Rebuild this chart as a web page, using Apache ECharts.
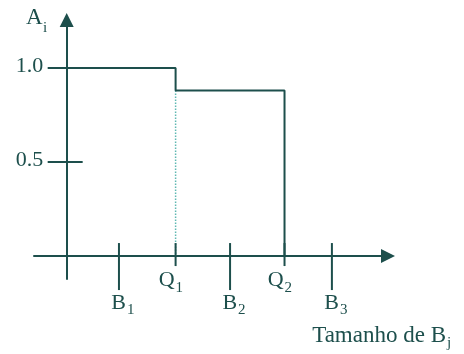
<!DOCTYPE html>
<html>
<head>
<meta charset="utf-8">
<style>
  html, body { margin: 0; padding: 0; background: #fff; }
  #chart { width: 464px; height: 354px; }
</style>
<script src="https://cdn.jsdelivr.net/npm/echarts@6/dist/echarts.min.js"></script>
</head>
<body>
<div id="chart"></div>
<script>
// A_i em função do tamanho de B_j (degraus)
const stepX = [0, 2, 2, 4, 4];
const stepY = [1, 1, 0.88, 0.88, 0];

// linha pontilhada em Q1
const dropX = [2, 2];
const dropY = [0.88, 0];

// marcas do eixo x
const xTickPos = [0.96, 2, 3, 4, 4.87];
const xTickLetter = ['B', 'Q', 'B', 'Q', 'B'];
const xTickSub = ['1', '1', '2', '2', '3'];

// marcas do eixo y
const yTickPos = [0.5, 1.0];
const yTickLabels = ['0.5', '1.0'];

const ink = '#1d4f4c';
const serif = 'Liberation Serif, DejaVu Serif, serif';

const txt = (text, x, y, size, align) => ({
  type: 'text',
  x: x, y: y,
  style: {
    text: text,
    font: size + 'px ' + serif,
    fill: ink,
    align: align, textAlign: align,
    verticalAlign: 'middle', textVerticalAlign: 'middle'
  }
});

const chart = echarts.init(document.getElementById('chart'));

chart.setOption({
  animation: false,
  grid: { left: 34, right: 76, top: 20, bottom: 75 },
  xAxis: {
    type: 'value',
    min: -0.6,
    max: 5.9,
    axisLine: {
      onZero: true,
      symbol: ['none', 'triangle'],
      symbolSize: [14, 14],
      lineStyle: { color: ink, width: 2 }
    },
    axisTick: { show: false },
    axisLabel: { show: false },
    splitLine: { show: false }
  },
  yAxis: {
    type: 'value',
    min: -0.122,
    max: 1.255,
    axisLine: {
      onZero: true,
      symbol: ['none', 'triangle'],
      symbolSize: [14, 14],
      lineStyle: { color: ink, width: 2 }
    },
    axisTick: { show: false },
    axisLabel: { show: false },
    splitLine: { show: false }
  },
  graphic: [
    txt('A', 26, 18, 23, 'left'),
    txt('i', 43, 28, 15, 'left'),
    txt('Tamanho de B', 446, 336, 23, 'right'),
    txt('j', 447, 343, 15, 'left')
  ],
  series: [
    {
      type: 'line',
      data: stepX.map((x, i) => [x, stepY[i]]),
      symbol: 'none',
      lineStyle: { color: ink, width: 2 },
      z: 3
    },
    {
      type: 'line',
      data: dropX.map((x, i) => [x, dropY[i]]),
      symbol: 'none',
      lineStyle: { color: '#5fb8b2', width: 1.5, type: 'dotted' },
      z: 2
    },
    {
      type: 'custom',
      clip: false,
      data: xTickPos.map(v => [v, 0]),
      renderItem: (params, api) => {
        const i = params.dataIndex;
        const p = api.coord([api.value(0), 0]);
        const isB = xTickLetter[i] === 'B';
        const down = isB ? 34 : 10;
        const ly = p[1] + (isB ? 47 : 24);
        const sy = p[1] + (isB ? 54 : 32);
        const lx = p[0] + (isB ? 7 : -1);
        return {
          type: 'group',
          children: [
            {
              type: 'line',
              shape: { x1: p[0], y1: p[1] - 13, x2: p[0], y2: p[1] + down },
              style: { stroke: ink, lineWidth: 2 }
            },
            txt(xTickLetter[i], lx, ly, 22, 'right'),
            txt(xTickSub[i], lx + 1, sy, 15, 'left')
          ]
        };
      },
      z: 4
    },
    {
      type: 'custom',
      clip: false,
      data: yTickPos.map(v => [0, v]),
      renderItem: (params, api) => {
        const i = params.dataIndex;
        const p = api.coord([0, api.value(1)]);
        return {
          type: 'group',
          children: [
            {
              type: 'line',
              shape: { x1: p[0] - 19, y1: p[1], x2: p[0] + 16, y2: p[1] },
              style: { stroke: ink, lineWidth: 2 }
            },
            txt(yTickLabels[i], p[0] - 23.5, p[1] - 2, 22, 'right')
          ]
        };
      },
      z: 4
    }
  ]
});
</script>
</body>
</html>
